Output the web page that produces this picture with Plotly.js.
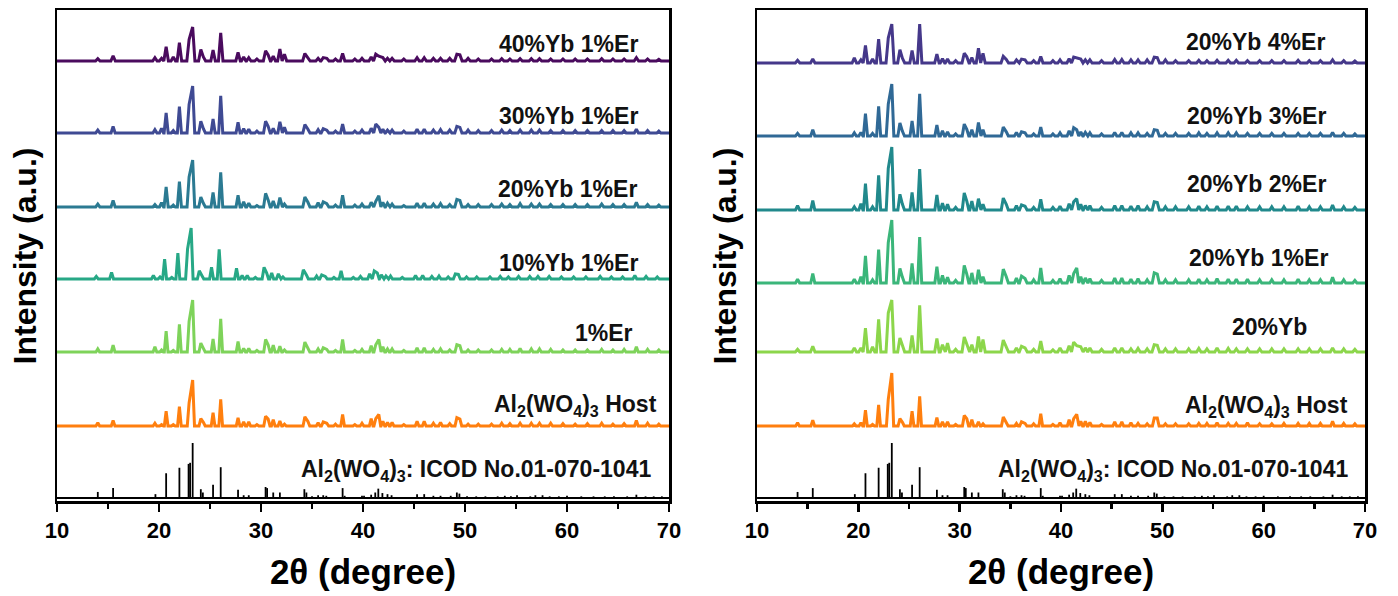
<!DOCTYPE html>
<html>
<head>
<meta charset="utf-8">
<script src="https://cdn.plot.ly/plotly-3.0.1.min.js"></script>
<style>html,body{margin:0;padding:0;background:#fff;}#chart{width:1398px;height:596px;}</style>
</head>
<body>
<div id="chart"></div>
<script>
// ---- DATA (2θ in degree, relative intensities in %) ----
const peakPos = [14.0,15.5,19.6,20.25,20.7,21.4,22.0,22.95,23.3,24.1,24.35,25.3,26.05,27.75,28.3,28.8,29.6,30.45,30.7,31.2,31.85,32.3,34.3,34.6,35.6,36.1,36.45,37.3,38.0,39.2,39.9,40.8,41.25,41.55,41.95,42.4,42.85,44.0,45.3,46.0,46.9,47.6,48.5,49.2,49.5,50.3,51.3,52.6,53.6,54.4,55.4,56.5,57.3,58.4,59.6,60.8,62.0,63.4,64.5,65.6,66.8,67.9,69.0];

// left panel
const L_host   = [7,12,6,3,32,3,42,50,100,16,8,29,58,18,9,9,3,21,15,14,11,4,20,10,7,9,6,4,25,3,6,16,16,25,10,8,8,3,10,10,6,8,5,18,15,4,4,4,6,5,6,6,6,6,5,4,5,6,4,5,12,6,4];
const L_er1    = [6,13,10,4,40,3,53,59,100,17,7,25,64,20,7,7,3,24,14,13,11,4,19,8,6,8,5,3,24,3,5,12,14,24,10,6,6,3,8,8,5,6,4,14,12,4,4,4,5,5,7,6,6,5,4,4,4,5,4,5,10,5,4];
const L_yb10   = [5,13,7,4,39,3,51,59,100,16,7,23,58,21,7,7,3,23,12,12,10,4,18,8,6,8,5,3,16,3,5,10,16,12,8,6,6,3,7,7,5,6,4,10,9,4,4,4,5,4,5,5,5,5,4,4,4,5,4,4,7,5,4];
const L_yb20   = [6,14,5,9,43,4,54,64,100,21,8,31,74,25,11,8,3,29,15,13,20,6,21,10,9,11,7,4,25,4,6,10,12,24,10,8,6,3,8,8,6,7,5,16,14,5,5,5,6,5,7,6,6,5,5,5,5,6,5,5,10,5,4];
const L_yb30   = [6,14,7,10,43,5,56,61,100,25,9,30,79,23,9,8,4,25,14,10,24,12,18,8,7,9,6,4,19,4,6,10,19,12,8,6,6,4,8,8,6,7,6,14,12,6,5,5,6,5,6,6,6,5,5,5,5,5,5,5,8,5,4];
const L_yb40   = [7,15,10,8,42,12,54,63,100,34,12,32,83,25,12,10,6,30,18,14,35,20,22,10,8,10,8,6,22,6,8,12,20,14,10,8,8,6,10,10,8,8,8,20,18,8,6,6,7,6,7,7,7,6,6,6,6,7,6,6,10,6,5];
const L_names  = ["Al<sub>2</sub>(WO<sub>4</sub>)<sub>3</sub> Host","1%Er","10%Yb 1%Er","20%Yb 1%Er","30%Yb 1%Er","40%Yb 1%Er"];
const L_max    = [46,52,51,47,47,34];        // max peak height (a.u.)
const L_offset = [75,149,222,294,368,440];   // vertical stacking offset (a.u.)
const L_shift  = [0,0,-0.15,0,0,0];          // 2θ shift (degree)
const L_width  = [0.18,0.18,0.19,0.2,0.2,0.22]; // peak half-width (degree)
const L_colors = ["#ff7f0e","#7ed35a","#27a886","#2b7a92","#3f4a93","#4a0b5e"];

// right panel
const R_host   = [6,11,4,6,30,3,40,50,100,14,7,28,56,16,8,8,3,20,14,12,8,4,17,8,5,8,5,4,23,3,6,12,14,22,9,9,7,3,8,8,6,5,4,15,15,4,4,4,5,5,6,5,5,6,4,4,5,5,5,5,9,5,4];
const R_yb20   = [5,11,8,8,46,10,63,75,100,27,10,32,90,26,14,17,5,29,15,14,30,24,23,10,8,11,8,5,21,4,8,12,19,12,10,8,8,5,8,8,6,7,6,14,13,6,6,6,7,6,8,7,6,6,6,6,6,6,6,6,8,6,5];
const R_er1    = [6,15,6,10,43,5,53,64,100,23,9,31,73,26,12,9,4,28,14,16,21,10,22,10,8,11,7,5,24,4,7,12,15,24,10,8,7,4,8,8,6,7,5,16,14,5,5,5,6,5,7,6,6,6,5,5,5,6,5,5,9,5,4];
const R_er2    = [7,15,5,10,42,5,55,66,100,25,9,28,65,24,11,9,4,27,14,14,18,9,19,9,7,8,6,4,17,4,6,10,13,18,9,7,7,4,7,7,6,7,5,13,12,5,5,5,6,5,6,6,6,5,5,5,5,6,5,5,8,5,4];
const R_er3    = [5,12,6,7,43,5,57,61,100,25,9,29,81,21,10,8,4,23,13,12,26,12,17,8,7,8,6,4,17,4,6,10,16,12,8,7,6,4,7,7,6,6,5,12,11,5,5,5,6,5,6,6,6,5,5,5,5,5,5,5,7,5,4];
const R_er4    = [7,10,13,8,45,10,61,64,100,34,12,32,100,23,11,10,6,25,16,14,38,25,17,9,8,10,8,6,17,6,8,11,15,12,10,8,8,6,9,9,8,8,8,15,14,8,6,6,7,6,7,7,7,6,6,6,6,7,6,6,8,6,5];
const R_names  = ["Al<sub>2</sub>(WO<sub>4</sub>)<sub>3</sub> Host","20%Yb","20%Yb 1%Er","20%Yb 2%Er","20%Yb 3%Er","20%Yb 4%Er"];
const R_max    = [53,52,63,63,52,39];
const R_offset = [75,149,218,291,365,438];
const R_shift  = [0,0,0,0,0,0];
const R_width  = [0.18,0.22,0.2,0.2,0.2,0.22];
const R_colors = ["#ff7f0e","#8cd64b","#3bb67a","#21898c","#306996","#45388a"];

// reference card Al2(WO4)3 ICOD 01-070-1041 : position, relative intensity (%)
const refPos = [14.0,15.5,19.65,20.7,22.0,22.9,23.05,23.3,24.1,24.3,25.3,26.05,27.75,28.3,28.8,30.45,30.6,31.2,31.85,34.25,34.45,35.0,35.6,36.1,36.4,38.0,38.2,39.9,40.1,40.8,41.2,41.5,41.9,42.4,42.8,45.3,46.0,46.9,47.6,48.6,49.2,49.45,50.2,51.1,52.0,53.2,53.9,54.5,55.1,56.4,56.9,57.6,58.3,59.2,60.0,61.4,62.6,63.7,64.6,65.9,66.8,67.7,68.5,69.3];
const refInt = [11,18,7,45,55,62,64,100,16,10,24,56,15,5,5,20,18,10,10,16,10,3,5,5,4,18,4,4,4,6,10,17,9,7,5,7,7,4,4,4,10,8,3,3,3,3,4,3,5,3,5,5,3,3,4,3,3,3,3,3,6,3,3,3];
const refMax = 55;
const refOffset = 3;
const refLabel = "Al<sub>2</sub>(WO<sub>4</sub>)<sub>3</sub>: ICOD No.01-070-1041";

// ---- build traces ----
function pattern(rel, maxH, off, shift, hw) {
  const xs = [10], ys = [off];
  const n = peakPos.length;
  for (let i = 0; i < n; i++) {
    const p = peakPos[i] + shift;
    const h = rel[i] / 100 * maxH;
    if (i === 0 || peakPos[i] - peakPos[i-1] >= 2*hw) { xs.push(p - hw); ys.push(off); }
    xs.push(p); ys.push(off + h);
    if (i === n-1 || peakPos[i+1] - peakPos[i] >= 2*hw) { xs.push(p + hw); ys.push(off); }
  }
  xs.push(70); ys.push(off);
  return {xs, ys};
}

const traces = [];
function addPanel(sets, maxs, offs, shifts, widths, colors, xa, ya) {
  sets.forEach((rel, k) => {
    const d = pattern(rel, maxs[k], offs[k], shifts[k], widths[k]);
    traces.push({x: d.xs, y: d.ys, xaxis: xa, yaxis: ya, mode: 'lines', type: 'scatter',
      line: {color: colors[k], width: 3, shape: 'linear'}, hoverinfo: 'skip', showlegend: false});
  });
  const sx = [10, 70, null], sy = [refOffset, refOffset, null];
  refPos.forEach((p, i) => { sx.push(p, p, null); sy.push(refOffset, refOffset + refInt[i]/100*refMax, null); });
  traces.push({x: sx, y: sy, xaxis: xa, yaxis: ya, mode: 'lines', type: 'scatter',
    line: {color: '#000', width: 1.8}, hoverinfo: 'skip', showlegend: false});
}
addPanel([L_host,L_er1,L_yb10,L_yb20,L_yb30,L_yb40], L_max, L_offset, L_shift, L_width, L_colors, 'x', 'y');
addPanel([R_host,R_yb20,R_er1,R_er2,R_er3,R_er4], R_max, R_offset, R_shift, R_width, R_colors, 'x2', 'y2');

const FONT = 'Liberation Sans, Arial, Helvetica, sans-serif';
const xAxisBase = {
  range: [10, 70], tickvals: [10,20,30,40,50,60,70], ticks: 'outside', ticklen: 8, tickwidth: 2.5, tickcolor: '#000',
  minor: {tickvals: [15,25,35,45,55,65], ticks: 'outside', ticklen: 5, tickwidth: 2.5, tickcolor: '#000'},
  showline: true, linewidth: 2.5, linecolor: '#000', mirror: true, showgrid: false, zeroline: false,
  tickfont: {family: FONT, size: 22, color: '#000', weight: 'bold'},
  title: {text: '2θ (degree)', font: {family: FONT, size: 35, color: '#000', weight: 'bold'}, standoff: 18}
};
const yAxisBase = {
  range: [0, 491], showticklabels: false, ticks: '', showline: true, linewidth: 2.5, linecolor: '#000',
  mirror: true, showgrid: false, zeroline: false
};

const annFont = {family: FONT, size: 23, color: '#111', weight: 'bold'};
function ann(text, x, y, xr, yr) {
  return {text, x, y, xref: xr, yref: yr, showarrow: false, xanchor: 'center', yanchor: 'middle', font: annFont};
}
const annotations = [
  ann(L_names[5], 60.1, 457, 'x', 'y'),
  ann(L_names[4], 60.1, 385, 'x', 'y'),
  ann(L_names[3], 60.0, 312, 'x', 'y'),
  ann(L_names[2], 60.1, 238, 'x', 'y'),
  ann(L_names[1], 63.6, 168, 'x', 'y'),
  ann(L_names[0], 60.8, 96, 'x', 'y'),
  ann(refLabel, 51.1, 31, 'x', 'y'),
  ann(R_names[5], 59.2, 459, 'x2', 'y2'),
  ann(R_names[4], 59.3, 385, 'x2', 'y2'),
  ann(R_names[3], 59.3, 317, 'x2', 'y2'),
  ann(R_names[2], 59.5, 243, 'x2', 'y2'),
  ann(R_names[1], 60.6, 174, 'x2', 'y2'),
  ann(R_names[0], 60.3, 95, 'x2', 'y2'),
  ann(refLabel, 51.1, 31, 'x2', 'y2'),
  {text: 'Intensity (a.u.)', x: -0.0245, y: 0.5, xref: 'paper', yref: 'paper', textangle: -90, showarrow: false,
   xanchor: 'center', yanchor: 'middle', font: {family: FONT, size: 32, color: '#000', weight: 'bold'}},
  {text: 'Intensity (a.u.)', x: 0.5107, y: 0.5, xref: 'paper', yref: 'paper', textangle: -90, showarrow: false,
   xanchor: 'center', yanchor: 'middle', font: {family: FONT, size: 32, color: '#000', weight: 'bold'}}
];

const layout = {
  width: 1398, height: 596,
  margin: {l: 57, r: 33, t: 10, b: 95},
  paper_bgcolor: '#fff', plot_bgcolor: '#fff',
  showlegend: false,
  xaxis: Object.assign({}, xAxisBase, {domain: [0, 0.4679], anchor: 'y'}),
  yaxis: Object.assign({}, yAxisBase, {anchor: 'x'}),
  xaxis2: Object.assign({}, xAxisBase, {domain: [0.5352, 1], anchor: 'y2'}),
  yaxis2: Object.assign({}, yAxisBase, {anchor: 'x2'}),
  annotations
};

Plotly.newPlot('chart', traces, layout, {displayModeBar: false, staticPlot: true});
</script>
</body>
</html>
